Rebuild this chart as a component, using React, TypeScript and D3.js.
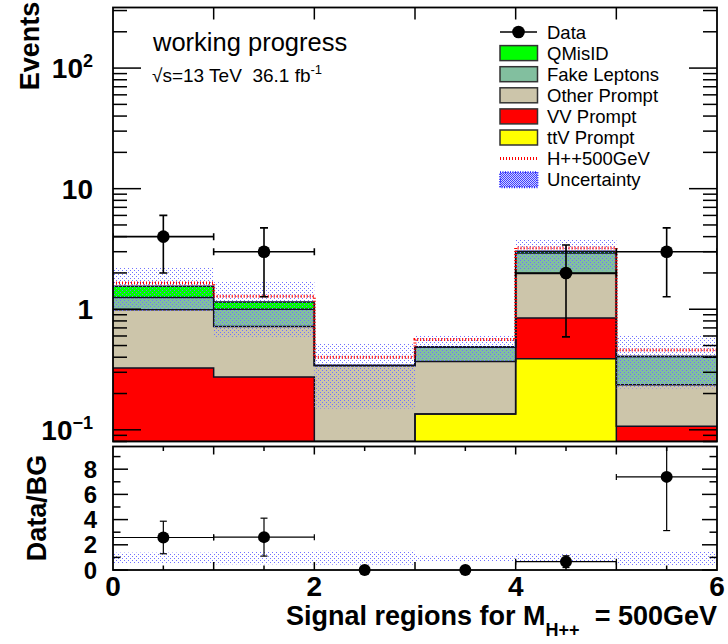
import React, { useEffect, useRef } from 'react';
import * as d3 from 'd3';

// bins: signal regions 0..6
const binEdges = [0, 1, 2, 3, 4, 5, 6];

// background stack, bottom to top
const ttvPrompt = [0, 0, 0, 0.135, 0.388, 0];
const vvPrompt = [0.325, 0.274, 0, 0, 0.457, 0.107];
const otherPrompt = [0.665, 0.446, 0.342, 0.234, 1.135, 0.129];
const fakeLeptons = [0.26, 0.28, 0, 0.117, 0.95, 0.17];
const qMisID = [0.3, 0.15, 0, 0, 0.09, 0];

// H++ 500 GeV stacked on top of background
const signalPlusBkg = [1.65, 1.28, 0.4, 0.56, 3.22, 0.46];

// uncertainty band (main panel, absolute) and ratio panel (relative)
const uncUp = [2.2, 1.7, 0.52, 0.6, 3.82, 0.6];
const uncDown = [0.96, 0.59, 0.15, 0.37, 2.1, 0.22];
const ratioBandUp = [1.38, 1.5, 1.52, 1.2, 1.27, 1.45];
const ratioBandDown = [0.55, 0.45, 0.42, 0.7, 0.68, 0.35];

const dataCounts = [4, 3, 0, 0, 2, 3];
const dataErr = [2.0, 1.73, 0, 0, 1.41, 1.73];

const mainTickLabels = [
  { v: 0.1, base: '10', sup: '\u22121' },
  { v: 1, base: '1', sup: '' },
  { v: 10, base: '10', sup: '' },
  { v: 100, base: '10', sup: '2' },
];
const ratioTickLabels = [0, 2, 4, 6, 8];
const xTickLabels = [0, 2, 4, 6];

const FONT = 'Liberation Sans, Arial, Helvetica, sans-serif';

const App = () => {
  const svgRef = useRef<SVGSVGElement | null>(null);

  useEffect(() => {
    const width = 728;
    const height = 644;
    const left = 113, right = 717;
    const mainTop = 7.5, mainBottom = 441.5;
    const ratTop = 446.5, ratBottom = 570;

    const svg = d3.select(svgRef.current)
      .attr('width', width)
      .attr('height', height)
      .style('background', '#ffffff');
    svg.selectAll('*').remove();

    const x = d3.scaleLinear().domain([0, 6]).range([left, right]);
    const y = d3.scaleLog().domain([0.08, 318]).range([mainBottom, mainTop]);
    const yr = d3.scaleLinear().domain([0, 9.8]).range([ratBottom, ratTop]);
    const ySafe = (v: number) => y(Math.max(v, 0.08));

    const defs = svg.append('defs');
    const band = defs.append('pattern')
      .attr('id', 'band').attr('patternUnits', 'userSpaceOnUse')
      .attr('width', 4).attr('height', 4);
    band.append('rect').attr('x', 0).attr('y', 0).attr('width', 1).attr('height', 1).attr('fill', '#7070ff');
    band.append('rect').attr('x', 2).attr('y', 2).attr('width', 1).attr('height', 1).attr('fill', '#7070ff');
    const bandDense = defs.append('pattern')
      .attr('id', 'bandDense').attr('patternUnits', 'userSpaceOnUse')
      .attr('width', 2).attr('height', 2);
    bandDense.append('rect').attr('width', 2).attr('height', 2).attr('fill', '#d0d0ff');
    bandDense.append('rect').attr('width', 1).attr('height', 1).attr('fill', '#4040ff');
    bandDense.append('rect').attr('x', 1).attr('y', 1).attr('width', 1).attr('height', 1).attr('fill', '#4040ff');

    defs.append('clipPath').attr('id', 'clipMain')
      .append('rect').attr('x', left).attr('y', mainTop).attr('width', right - left).attr('height', mainBottom - mainTop);
    defs.append('clipPath').attr('id', 'clipRat')
      .append('rect').attr('x', left).attr('y', ratTop).attr('width', right - left).attr('height', ratBottom - ratTop);

    // ---------- main panel ----------
    const components = [
      { vals: ttvPrompt, color: '#ffff00' },
      { vals: vvPrompt, color: '#ff0000' },
      { vals: otherPrompt, color: '#ccc5aa' },
      { vals: fakeLeptons, color: '#82bf9f' },
      { vals: qMisID, color: '#00ff00' },
    ];
    let prev = binEdges.slice(0, 6).map(() => 0);
    const layers = components.map(c => {
      const cum = c.vals.map((v, i) => v + prev[i]);
      const layer = { lo: prev, hi: cum, color: c.color };
      prev = cum;
      return layer;
    });
    const total = prev;

    const stepPts = (lo: number[], hi: number[]) =>
      binEdges.map((e, i) => ({ x: e, lo: lo[Math.min(i, 5)], hi: hi[Math.min(i, 5)] }));

    const area = d3.area<any>()
      .curve(d3.curveStepAfter)
      .x(d => x(d.x))
      .y0(d => ySafe(d.lo))
      .y1(d => ySafe(d.hi));
    const line = d3.line<any>()
      .curve(d3.curveStepAfter)
      .x(d => x(d.x))
      .y(d => ySafe(d.hi));

    const main = svg.append('g').attr('clip-path', 'url(#clipMain)');
    layers.forEach(l => {
      main.append('path').attr('d', area(stepPts(l.lo, l.hi)) as string)
        .attr('fill', l.color).attr('stroke', 'none');
    });
    layers.forEach(l => {
      main.append('path').attr('d', line(stepPts(l.lo, l.hi)) as string)
        .attr('fill', 'none').attr('stroke', '#111122').attr('stroke-width', 1.5);
    });

    // uncertainty band
    main.selectAll('.unc')
      .data(uncUp)
      .enter().append('rect')
      .attr('x', (d, i) => x(binEdges[i]))
      .attr('width', (d, i) => x(binEdges[i + 1]) - x(binEdges[i]))
      .attr('y', d => y(d))
      .attr('height', (d, i) => y(uncDown[i]) - y(d))
      .attr('fill', 'url(#band)');

    // signal
    main.append('path')
      .attr('d', line(stepPts(total, signalPlusBkg)) as string)
      .attr('fill', 'none').attr('stroke', '#ff0000')
      .attr('stroke-width', 3).attr('stroke-dasharray', '1 2');

    // data
    const dataIdx = dataCounts.map((d, i) => i).filter(i => dataCounts[i] > 0);
    const dg = main.append('g').attr('stroke', '#000').attr('stroke-width', 1.6);
    dataIdx.forEach(i => {
      const cx = x(binEdges[i] + 0.5);
      const cy = y(dataCounts[i]);
      const yUp = y(dataCounts[i] + dataErr[i]);
      const yDn = y(dataCounts[i] - dataErr[i]);
      dg.append('line').attr('x1', x(binEdges[i])).attr('x2', x(binEdges[i + 1])).attr('y1', cy).attr('y2', cy);
      dg.append('line').attr('x1', x(binEdges[i])).attr('x2', x(binEdges[i])).attr('y1', cy - 3.5).attr('y2', cy + 3.5);
      dg.append('line').attr('x1', x(binEdges[i + 1])).attr('x2', x(binEdges[i + 1])).attr('y1', cy - 3.5).attr('y2', cy + 3.5);
      dg.append('line').attr('x1', cx).attr('x2', cx).attr('y1', yUp).attr('y2', yDn);
      dg.append('line').attr('x1', cx - 4).attr('x2', cx + 4).attr('y1', yUp).attr('y2', yUp);
      dg.append('line').attr('x1', cx - 4).attr('x2', cx + 4).attr('y1', yDn).attr('y2', yDn);
      dg.append('circle').attr('cx', cx).attr('cy', cy).attr('r', 6.3).attr('fill', '#000').attr('stroke', 'none');
    });

    // main frame and ticks
    const axes = svg.append('g').attr('stroke', '#000').attr('stroke-width', 1.5);
    y.ticks().forEach(t => {
      const major = Math.abs(Math.log10(t) - Math.round(Math.log10(t))) < 1e-6;
      const len = major ? 28 : 14;
      axes.append('line').attr('x1', left).attr('x2', left + len).attr('y1', y(t)).attr('y2', y(t));
      axes.append('line').attr('x1', right - len).attr('x2', right).attr('y1', y(t)).attr('y2', y(t));
    });
    d3.range(1, 6).forEach(t => {
      axes.append('line').attr('x1', x(t)).attr('x2', x(t)).attr('y1', mainTop).attr('y2', mainTop + 12);
    });
    axes.append('rect').attr('x', left).attr('y', mainTop).attr('width', right - left).attr('height', mainBottom - mainTop)
      .attr('fill', 'none').attr('stroke-width', 1.8);

    // ---------- ratio panel ----------
    const rat = svg.append('g').attr('clip-path', 'url(#clipRat)');
    rat.selectAll('.rband')
      .data(ratioBandUp)
      .enter().append('rect')
      .attr('x', (d, i) => x(binEdges[i]))
      .attr('width', (d, i) => x(binEdges[i + 1]) - x(binEdges[i]))
      .attr('y', d => yr(d))
      .attr('height', (d, i) => yr(ratioBandDown[i]) - yr(d))
      .attr('fill', 'url(#band)');

    const rg = rat.append('g').attr('stroke', '#000').attr('stroke-width', 1.2);
    dataCounts.forEach((d, i) => {
      const cx = x(binEdges[i] + 0.5);
      const r = d / total[i];
      const cy = yr(r);
      if (d > 0) {
        const yUp = yr((d + dataErr[i]) / total[i]);
        const yDn = yr((d - dataErr[i]) / total[i]);
        rg.append('line').attr('x1', x(binEdges[i])).attr('x2', x(binEdges[i + 1])).attr('y1', cy).attr('y2', cy);
        rg.append('line').attr('x1', x(binEdges[i])).attr('x2', x(binEdges[i])).attr('y1', cy - 3).attr('y2', cy + 3);
        rg.append('line').attr('x1', x(binEdges[i + 1])).attr('x2', x(binEdges[i + 1])).attr('y1', cy - 3).attr('y2', cy + 3);
        rg.append('line').attr('x1', cx).attr('x2', cx).attr('y1', yUp).attr('y2', yDn);
        rg.append('line').attr('x1', cx - 3.5).attr('x2', cx + 3.5).attr('y1', yUp).attr('y2', yUp);
        rg.append('line').attr('x1', cx - 3.5).attr('x2', cx + 3.5).attr('y1', yDn).attr('y2', yDn);
      }
    });
    // zero-ratio markers sit on the axis and are not clipped
    dataCounts.forEach((d, i) => {
      const cx = x(binEdges[i] + 0.5);
      const cy = yr(d / total[i]);
      svg.append('circle').attr('cx', cx).attr('cy', cy).attr('r', 6).attr('fill', '#000');
    });

    const raxes = svg.append('g').attr('stroke', '#000').attr('stroke-width', 1.5);
    d3.range(0, 10).forEach(t => {
      const len = t % 2 === 0 ? 15 : 7.5;
      raxes.append('line').attr('x1', left).attr('x2', left + len).attr('y1', yr(t)).attr('y2', yr(t));
      raxes.append('line').attr('x1', right - len).attr('x2', right).attr('y1', yr(t)).attr('y2', yr(t));
    });
    d3.range(0.5, 6, 0.5).forEach(t => {
      const len = Number.isInteger(t) ? 8 : 4.5;
      raxes.append('line').attr('x1', x(t)).attr('x2', x(t)).attr('y1', ratBottom).attr('y2', ratBottom - len);
      raxes.append('line').attr('x1', x(t)).attr('x2', x(t)).attr('y1', ratTop).attr('y2', ratTop + len);
    });
    raxes.append('rect').attr('x', left).attr('y', ratTop).attr('width', right - left).attr('height', ratBottom - ratTop)
      .attr('fill', 'none').attr('stroke-width', 1.8);

    // ---------- labels ----------
    const txt = svg.append('g').attr('font-family', FONT).attr('fill', '#000');

    mainTickLabels.forEach(t => {
      const el = txt.append('text').attr('x', 93).attr('y', y(t.v) + 10)
        .attr('text-anchor', 'end').attr('font-size', 28).attr('font-weight', 'bold');
      el.append('tspan').text(t.base);
      if (t.sup) el.append('tspan').attr('dy', -11).attr('font-size', 18).text(t.sup);
    });
    ratioTickLabels.forEach(t => {
      txt.append('text').attr('x', 97).attr('y', yr(t) + 8.5)
        .attr('text-anchor', 'end').attr('font-size', 24).attr('font-weight', 'bold').text(String(t));
    });
    xTickLabels.forEach(t => {
      txt.append('text').attr('x', x(t)).attr('y', 596)
        .attr('text-anchor', 'middle').attr('font-size', 28).attr('font-weight', 'bold').text(String(t));
    });

    txt.append('text').attr('transform', 'translate(39,46) rotate(-90)')
      .attr('text-anchor', 'middle').attr('font-size', 27).attr('font-weight', 'bold').text('Events');
    txt.append('text').attr('transform', 'translate(46,508) rotate(-90)')
      .attr('text-anchor', 'middle').attr('font-size', 27).attr('font-weight', 'bold').text('Data/BG');

    const xl = txt.append('text').attr('x', 717).attr('y', 625)
      .attr('text-anchor', 'end').attr('font-size', 27).attr('font-weight', 'bold')
      .style('white-space', 'pre');
    xl.append('tspan').text('Signal regions for M');
    xl.append('tspan').attr('dy', 11).attr('font-size', 18).text('H++');
    xl.append('tspan').attr('dy', -11).text('  = 500GeV');

    txt.append('text').attr('x', 153).attr('y', 51).attr('font-size', 25.5).text('working progress');
    const lumi = txt.append('text').attr('x', 152).attr('y', 82).attr('font-size', 19).style('white-space', 'pre');
    lumi.append('tspan').text('\u221As=13 TeV  36.1 fb');
    lumi.append('tspan').attr('dy', -8).attr('font-size', 13).text('-1');

    // ---------- legend ----------
    const legendItems = [
      { label: 'Data', kind: 'data', color: '#000' },
      { label: 'QMisID', kind: 'box', color: '#00ff00' },
      { label: 'Fake Leptons', kind: 'box', color: '#82bf9f' },
      { label: 'Other Prompt', kind: 'box', color: '#ccc5aa' },
      { label: 'VV Prompt', kind: 'box', color: '#ff0000' },
      { label: 'ttV Prompt', kind: 'box', color: '#ffff00' },
      { label: 'H++500GeV', kind: 'signal', color: '#ff0000' },
      { label: 'Uncertainty', kind: 'band', color: '#0000ff' },
    ];
    const leg = svg.append('g');
    legendItems.forEach((it, i) => {
      const cy = 32 + i * 21.1;
      if (it.kind === 'data') {
        leg.append('line').attr('x1', 500).attr('x2', 537).attr('y1', cy).attr('y2', cy).attr('stroke', '#000').attr('stroke-width', 1.5);
        leg.append('circle').attr('cx', 518.5).attr('cy', cy).attr('r', 6.3).attr('fill', '#000');
      } else if (it.kind === 'box') {
        leg.append('rect').attr('x', 500).attr('y', cy - 7.5).attr('width', 37.5).attr('height', 15)
          .attr('fill', it.color).attr('stroke', '#333').attr('stroke-width', 1.5);
      } else if (it.kind === 'signal') {
        leg.append('line').attr('x1', 500).attr('x2', 537).attr('y1', cy).attr('y2', cy)
          .attr('stroke', '#ff0000').attr('stroke-width', 3).attr('stroke-dasharray', '1 2');
      } else {
        leg.append('rect').attr('x', 500).attr('y', cy - 7.5).attr('width', 37.5).attr('height', 15)
          .attr('fill', 'url(#bandDense)').attr('stroke', '#2020ff').attr('stroke-width', 2).attr('stroke-dasharray', '1 1.5');
      }
      leg.append('text').attr('x', 547).attr('y', cy + 6.5)
        .attr('font-family', FONT).attr('font-size', 18.5).attr('fill', '#000').text(it.label);
    });
  }, []);

  return (
    <svg ref={svgRef} style={{ position: 'absolute', left: 0, top: 0 }}></svg>
  );
};

export default App;
